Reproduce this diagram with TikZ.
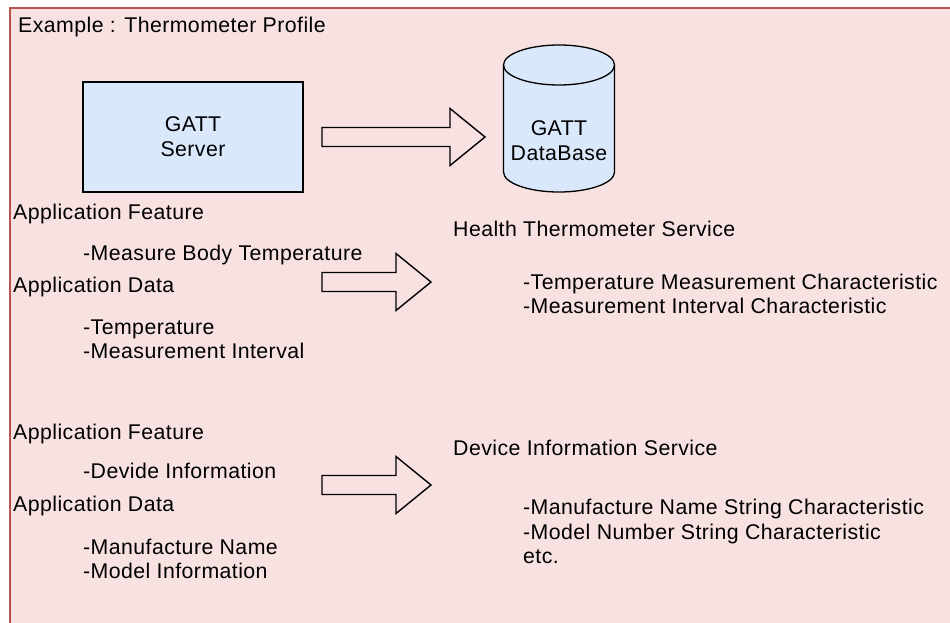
\documentclass[tikz,border=0pt]{standalone}
\usepackage{fontspec}
\setmainfont{Liberation Sans}[LetterSpace=2]
\definecolor{framefill}{HTML}{F8E1E1}
\definecolor{frameline}{HTML}{B85450}
\definecolor{boxfill}{HTML}{DAE8FC}
\tikzset{
  txt/.style={anchor=base west},
  serverbox/.style={draw=black, fill=boxfill, line width=1.3pt, minimum width=220pt,
    minimum height=110pt, align=center},
  arrowline/.style={draw=black, line width=1.4pt, line join=miter},
  pics/blockarrow/.style args={#1/#2}{code={
    \draw[arrowline] (0,-9.5) -- (#1,-9.5) -- (#1,-28.5) -- (#1+#2,0)
      -- (#1,28.5) -- (#1,9.5) -- (0,9.5) -- cycle;}}
}
\begin{document}
\begin{tikzpicture}[x=1pt, y=-1pt,
  every node/.style={inner sep=0pt, font=\fontsize{21.3pt}{25pt}\selectfont}]
\useasboundingbox (0,0) rectangle (950,623);
\clip (0,0) rectangle (950,623);

% outer frame, running past the right and bottom edges
\draw[draw=frameline, fill=framefill, line width=1.5pt] (10,8) rectangle (980,650);
\node[txt] (title) at (18,33) {Example : Thermometer Profile};

% GATT server
\node[serverbox] (server) at (193,137) {GATT\\Server};

% GATT database cylinder
\fill[boxfill] (503.5,65) -- (503.5,172)
  arc[start angle=180, end angle=0, x radius=55.5, y radius=20] -- (614.5,65) -- cycle;
\draw[black, line width=1.3pt] (503.5,65) -- (503.5,172)
  arc[start angle=180, end angle=0, x radius=55.5, y radius=20] -- (614.5,65);
\draw[black, fill=boxfill, line width=1.3pt] (559,65) ellipse[x radius=55.5, y radius=20];
\node[align=center] (db) at (559,141) {GATT\\DataBase};

% block arrows
\pic at (322,137) {blockarrow=128/35};
\pic at (322,282) {blockarrow=74/35};
\pic at (322,485) {blockarrow=74/35};

% thermometer section
\node[txt] (feat1)  at (13,219) {Application Feature};
\node[txt] (feat1a) at (83,260) {-Measure Body Temperature};
\node[txt] (data1)  at (13,292) {Application Data};
\node[txt] (data1a) at (83,334) {-Temperature};
\node[txt] (data1b) at (83,358) {-Measurement Interval};

\node[txt] (hts)  at (453,236) {Health Thermometer Service};
\node[txt] (hts1) at (523,289) {-Temperature Measurement Characteristic};
\node[txt] (hts2) at (523,313) {-Measurement Interval Characteristic};

% device information section
\node[txt] (feat2)  at (13,439) {Application Feature};
\node[txt] (feat2a) at (83,478) {-Devide Information};
\node[txt] (data2)  at (13,511) {Application Data};
\node[txt] (data2a) at (83,554) {-Manufacture Name};
\node[txt] (data2b) at (83,578) {-Model Information};

\node[txt] (dis)  at (453,455) {Device Information Service};
\node[txt] (dis1) at (523,514) {-Manufacture Name String Characteristic};
\node[txt] (dis2) at (523,539) {-Model Number String Characteristic};
\node[txt] (dis3) at (523,563) {etc.};
\end{tikzpicture}
\end{document}
